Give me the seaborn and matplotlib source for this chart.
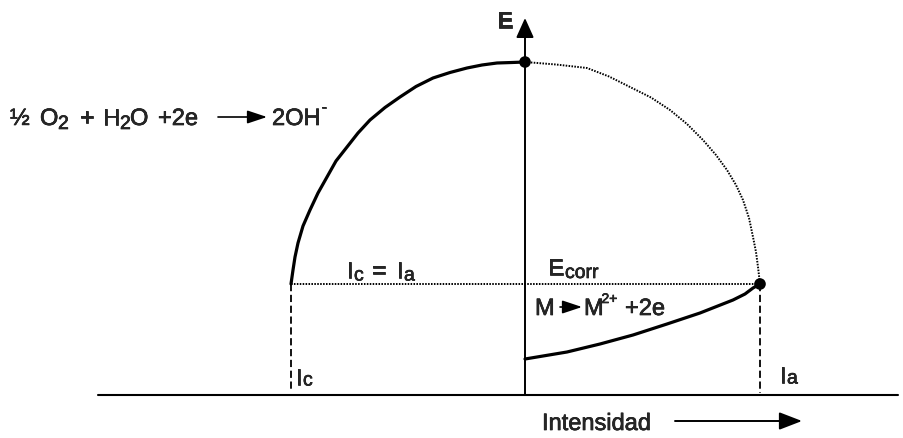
import numpy as np
import pandas as pd
import seaborn as sns
import matplotlib.pyplot as plt
import matplotlib.patheffects as pe

# --- values (intensity I, potential E; arbitrary units) ---
# cathodic branch (O2 reduction), solid
cat_I = [0.00, -0.13, -0.28, -0.43, -0.58, -0.75, -0.92, -1.09, -1.25, -1.40, -1.55,
         -1.67, -1.78, -1.89, -1.98, -2.07, -2.15, -2.22, -2.27, -2.30, -2.32, -2.34]
cat_E = [3.33, 3.325, 3.32, 3.30, 3.27, 3.225, 3.17, 3.085, 2.98, 2.875, 2.75,
         2.62, 2.48, 2.34, 2.18, 2.02, 1.85, 1.69, 1.52, 1.38, 1.25, 1.11]
# mirrored cathodic branch, dotted
mir_I = [0.00, 0.31, 0.62, 0.84, 1.05, 1.26, 1.45, 1.62, 1.78, 1.91, 2.02, 2.11,
         2.18, 2.24, 2.28, 2.31, 2.33, 2.35]
mir_E = [3.33, 3.305, 3.27, 3.185, 3.08, 2.975, 2.85, 2.71, 2.55, 2.40, 2.25, 2.10,
         1.95, 1.77, 1.58, 1.43, 1.28, 1.11]
# anodic branch (metal oxidation), solid
ano_I = [0.00, 0.42, 0.75, 1.08, 1.42, 1.75, 2.08, 2.20, 2.28, 2.35]
ano_E = [0.36, 0.43, 0.51, 0.60, 0.71, 0.82, 0.95, 1.01, 1.07, 1.11]

E_corr = 1.11
I_c = -2.34
I_a = 2.35
E_top = 3.33
E_axis_top = 3.77
base_left, base_right = -4.27, 3.73

sns.set_theme(style="white")
plt.rcParams['font.family'] = ['Liberation Sans', 'DejaVu Sans']

fig = plt.figure(figsize=(9.04, 4.38), dpi=100)
ax = fig.add_axes([0, 0, 1, 1])
ax.set_xlim(-5.25, 3.79)
ax.set_ylim(-0.43, 3.95)
ax.axis('off')

cat = pd.DataFrame({'I': cat_I, 'E': cat_E})
mir = pd.DataFrame({'I': mir_I, 'E': mir_E})
ano = pd.DataFrame({'I': ano_I, 'E': ano_E})

sns.lineplot(data=cat, x='I', y='E', sort=False, estimator=None, color='black', lw=2.3, ax=ax)
sns.lineplot(data=mir, x='I', y='E', sort=False, estimator=None, color='black', lw=1.4,
             linestyle=(0, (0.8, 0.7)), ax=ax)
sns.lineplot(data=ano, x='I', y='E', sort=False, estimator=None, color='black', lw=2.3, ax=ax)

# Ecorr dotted line and dashed drops
ax.plot([I_c, I_a], [E_corr, E_corr], color='black', lw=1.4, ls=(0, (0.8, 0.7)))
ax.plot([I_c, I_c], [E_corr, 0.05], color='black', lw=1.3, ls=(0, (4, 2)))
ax.plot([I_a, I_a], [E_corr, 0.02], color='black', lw=1.3, ls=(0, (4, 2)))

# axes
ax.plot([base_left, base_right], [0, 0], color='black', lw=1.5)
ax.annotate('', xy=(0, E_axis_top), xytext=(0, 0),
            arrowprops=dict(arrowstyle='-|>,head_length=0.6,head_width=0.27',
                            mutation_scale=20, color='black', lw=1.4, shrinkA=0, shrinkB=0))

sns.scatterplot(x=[0, I_a], y=[E_top, E_corr], color='black', s=70, edgecolor='none', ax=ax, zorder=5)

heavy = [pe.withStroke(linewidth=0.45, foreground='black')]


def txt(x, y, s, size=17, **kw):
    ax.text(x, y, s, fontsize=size, ha='left', va='baseline', path_effects=heavy, **kw)


def arrow(x0, x1, y, hl=0.6, hw=0.2, lw=1.2):
    ax.annotate('', xy=(x1, y), xytext=(x0, y),
                arrowprops=dict(arrowstyle=f'-|>,head_length={hl},head_width={hw}',
                                mutation_scale=20, color='black', lw=lw, shrinkA=0, shrinkB=0))


txt(-0.28, 3.67, 'E', fontweight='bold')

# 1/2 O2 + H2O + 2e -> 2OH-
txt(-5.15, 2.70, '½')
txt(-4.85, 2.70, 'O')
txt(-4.67, 2.66, '2', size=14)
txt(-4.45, 2.70, '+')
txt(-4.22, 2.70, 'H')
txt(-4.05, 2.66, '2', size=14)
txt(-3.95, 2.70, 'O')
txt(-3.67, 2.70, '+2e')
arrow(-3.07, -2.58, 2.78)
txt(-2.53, 2.70, '2OH')
txt(-2.04, 2.83, '-', size=12)

# M -> M2+ + 2e
txt(0.10, 0.80, 'M')
arrow(0.35, 0.57, 0.88)
txt(0.59, 0.80, 'M')
txt(0.765, 0.92, '2+', size=10)
txt(1.00, 0.80, '+2e')

# Ic = Ia, Ecorr
txt(-1.78, 1.17, 'I')
txt(-1.71, 1.145, 'c', size=14)
txt(-1.53, 1.17, '=')
txt(-1.28, 1.17, 'I')
txt(-1.21, 1.145, 'a', size=14)
txt(0.23, 1.20, 'E')
txt(0.40, 1.17, 'corr', size=14)

txt(-2.29, 0.10, 'I')
txt(-2.22, 0.095, 'c', size=14)
txt(2.55, 0.12, 'I')
txt(2.62, 0.115, 'a', size=14)

txt(0.17, -0.35, 'Intensidad')
arrow(1.50, 2.77, -0.26, hl=0.7, hw=0.27, lw=1.4)

plt.savefig('out.png', dpi=100)
